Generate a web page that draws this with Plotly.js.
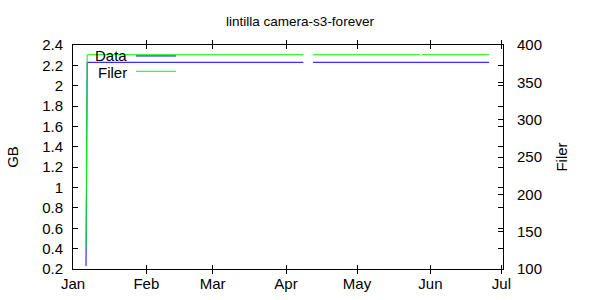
<!DOCTYPE html>
<html>
<head>
<meta charset="utf-8">
<script src="https://cdn.plot.ly/plotly-3.0.1.min.js"></script>
<style>html,body{margin:0;padding:0;background:#fff}#chart{width:600px;height:300px}</style>
</head>
<body>
<div id="chart"></div>
<script>
// Data
var dataDates = ['2025-01-06 12:00', '2025-01-07 00:00', '2025-04-08 08:00', '2025-04-10 00:00', '2025-04-12 10:00', '2025-06-25 20:00'];
var dataGB = [0.23, 2.23, 2.23, null, 2.23, 2.23];

var filerDates = ['2025-01-06 12:00', '2025-01-07 00:00', '2025-04-08 08:00', '2025-04-10 00:00', '2025-04-12 10:00', '2025-05-27 14:00', '2025-05-27 22:00', '2025-05-28 10:00', '2025-06-25 20:00'];
var filerCount = [127, 387, 387, null, 387, 387, null, 387, 387];

var seriesNames = ['Data', 'Filer'];
var seriesColors = ['#0000ff', '#00ff00'];

var FONT = 'Liberation Sans, Arial, sans-serif';
var FS = 15;

var traces = [
  {x: dataDates, y: dataGB, name: seriesNames[0], type: 'scatter', mode: 'lines',
   connectgaps: false, line: {color: seriesColors[0], width: 1}, yaxis: 'y'},
  {x: filerDates, y: filerCount, name: seriesNames[1], type: 'scatter', mode: 'lines',
   connectgaps: false, line: {color: seriesColors[1], width: 1}, yaxis: 'y2'}
];

// custom gnuplot-like key (text right-aligned, sample to the right)
var keyX = 0.1256, keyS0 = 0.1465, keyS1 = 0.2395;
var keyY = [0.951, 0.8826];
var keyTextY = [0.955, 0.879];
var annotations = [], shapes = [];
for (var i = 0; i < seriesNames.length; i++) {
  annotations.push({xref: 'paper', yref: 'paper', x: keyX, y: keyTextY[i], xanchor: 'right', yanchor: 'middle',
    xshift: 2, text: seriesNames[i], showarrow: false, font: {family: FONT, size: FS, color: '#000'}});
  shapes.push({type: 'line', xref: 'paper', yref: 'paper', x0: keyS0, x1: keyS1, y0: keyY[i], y1: keyY[i],
    line: {color: seriesColors[i], width: 1}});
}

var layout = {
  width: 600, height: 300,
  margin: {l: 73, r: 97, t: 45, b: 31, pad: 0},
  paper_bgcolor: '#fff', plot_bgcolor: '#fff',
  showlegend: false,
  font: {family: FONT, size: FS, color: '#000'},
  title: {text: 'lintilla camera-s3-forever', x: 0.5, xanchor: 'center', y: 0.928, yanchor: 'middle',
          font: {family: FONT, size: 13.5, color: '#000'}},
  xaxis: {type: 'date', range: ['2025-01-01', '2025-07-01 16:00'], dtick: 'M1', tick0: '2025-01-01',
          tickformat: '%b', ticks: 'inside', ticklen: 4, tickcolor: '#000', showgrid: false, zeroline: false,
          showline: true, linecolor: '#000', linewidth: 1, mirror: 'allticks', ticklabelstandoff: 1,
          tickfont: {family: FONT, size: FS, color: '#000'}},
  yaxis: {range: [0.2, 2.4], dtick: 0.2, tick0: 0.2, ticks: 'inside', ticklen: 5, tickcolor: '#000',
          showgrid: false, zeroline: false, showline: true, linecolor: '#000', linewidth: 1, mirror: 'allticks',
          ticklabelstandoff: 6,
          tickfont: {family: FONT, size: FS, color: '#000'},
          title: {text: 'GB', standoff: 19, font: {family: FONT, size: FS, color: '#000'}}},
  yaxis2: {overlaying: 'y', side: 'right', range: [100, 400], dtick: 50, tick0: 100, ticks: 'inside', ticklen: 5,
           tickcolor: '#000', showgrid: false, zeroline: false, showline: false, ticklabelstandoff: 13,
           tickfont: {family: FONT, size: FS, color: '#000'},
           title: {text: 'Filer', standoff: 15, font: {family: FONT, size: FS, color: '#000'}}},
  annotations: annotations,
  shapes: shapes
};

Plotly.newPlot('chart', traces, layout, {displayModeBar: false, staticPlot: true});
</script>
</body>
</html>
